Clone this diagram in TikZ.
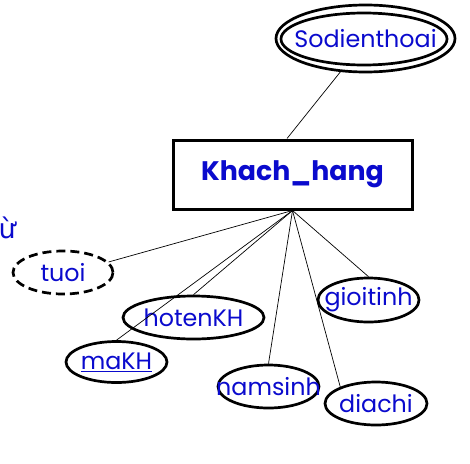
\documentclass[tikz,border=0pt]{standalone}
\usepackage{fontspec}
\setmainfont{Poppins}
\newfontfamily\vnfont{DejaVu Sans}
\usetikzlibrary{shapes.geometric}
\definecolor{txtblue}{RGB}{10,10,205}
\begin{document}
\begin{tikzpicture}[x=1pt,y=-1pt,
  attr/.style={ellipse, draw, line width=2.7pt, inner sep=0pt},
  dashattr/.style={attr, dash pattern=on 9pt off 5pt},
  lbl/.style={text=txtblue, inner sep=0pt, font=\fontsize{23.8}{26}\selectfont},
  entity/.style={draw, line width=3pt, inner sep=0pt, minimum width=239pt, minimum height=69pt,
    text=txtblue, font=\fontsize{26.8}{30}\selectfont\bfseries},
  conn/.style={line width=0.7pt}]
\useasboundingbox (0,0) rectangle (470,463);

% entity
\node[entity] (kh) at (292.5,174.5) {Khach\_hang};

% multivalued attribute
\node[attr, minimum width=179pt, minimum height=67pt] (sdt) at (365.5,38.5) {};
\node[attr, minimum width=166pt, minimum height=52pt] (sdtin) at (364,39) {};
\node[lbl] at (sdt) {Sodienthoai};

% attributes
\node[dashattr, minimum width=100pt, minimum height=43pt] (tuoi) at (63,272.5) {};
\node[lbl] at (tuoi) {tuoi};
\node[attr, minimum width=141pt, minimum height=43pt] (hoten) at (193.5,317.5) {};
\node[lbl] at (hoten) {hotenKH};
\node[attr, minimum width=101pt, minimum height=41pt] (ma) at (116.5,362) {};
\node[lbl] at (ma) {\underline{maKH}};
\node[attr, minimum width=101pt, minimum height=44pt] (gt) at (368.5,300) {};
\node[lbl] at (gt) {gioitinh};
\node[attr, minimum width=101pt, minimum height=43pt] (ns) at (268.5,386.5) {};
\node[lbl] at (ns) {namsinh};
\node[attr, minimum width=102pt, minimum height=43pt] (dc) at (376,403.5) {};
\node[lbl] at (dc) {diachi};

% cut-off text at the left edge
\node[anchor=base west, inner sep=0pt, text=txtblue, font=\vnfont\fontsize{27}{30}\selectfont] (cut) at (-1.5,238) {ừ};

% connectors
\draw[conn] (sdt.233) -- ([xshift=-5.5pt]kh.north);
\draw[conn] (kh.south) -- (tuoi.13);
\draw[conn] (kh.south) -- (ma.north);
\draw[conn] (kh.south) -- (hoten.north);
\draw[conn] (kh.south) -- (ns.north);
\draw[conn] (kh.south) -- (dc.155);
\draw[conn] (kh.south) -- (gt.north);
\end{tikzpicture}
\end{document}
